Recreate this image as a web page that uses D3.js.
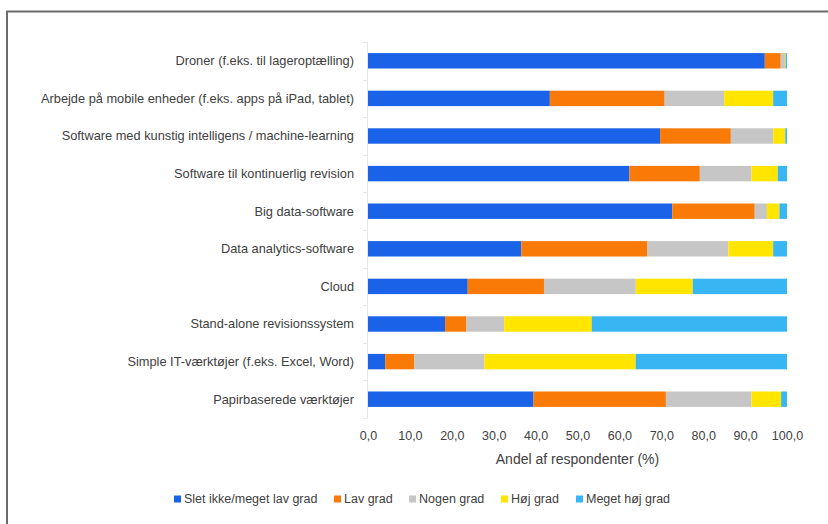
<!DOCTYPE html>
<html>
<head>
<meta charset="utf-8">
<script src="https://cdnjs.cloudflare.com/ajax/libs/d3/7.8.5/d3.min.js"></script>
<style>
  body { margin: 0; background: #fff; }
  text { font-family: "Liberation Sans", "DejaVu Sans", sans-serif; fill: #404040; }
</style>
</head>
<body>
<script>
// categories (top to bottom)
var categories = [
  "Droner (f.eks. til lageroptælling)",
  "Arbejde på mobile enheder (f.eks. apps på iPad, tablet)",
  "Software med kunstig intelligens / machine-learning",
  "Software til kontinuerlig revision",
  "Big data-software",
  "Data analytics-software",
  "Cloud",
  "Stand-alone revisionssystem",
  "Simple IT-værktøjer (f.eks. Excel, Word)",
  "Papirbaserede værktøjer"
];

// series (share of respondents, %)
var sletIkke = [94.7, 43.4, 69.7, 62.4, 72.6, 36.6, 23.8, 18.4, 4.1, 39.5];
var lavGrad  = [3.8, 27.4, 16.9, 16.8, 19.7, 30.1, 18.2, 5.1, 6.9, 31.6];
var nogenGrad = [1.0, 14.2, 10.1, 12.3, 2.9, 19.3, 21.9, 9.0, 16.8, 20.4];
var hojGrad  = [0.2, 11.7, 2.9, 6.3, 3.0, 10.7, 13.6, 20.9, 36.1, 7.1];
var megetHoj = [0.3, 3.3, 0.4, 2.2, 1.8, 3.3, 22.5, 46.6, 36.1, 1.4];

var seriesNames = ["Slet ikke/meget lav grad", "Lav grad", "Nogen grad", "Høj grad", "Meget høj grad"];
var seriesColors = ["#1a63e8", "#fa7a08", "#c6c6c6", "#ffe500", "#38b6f4"];
var tickValues = [0, 10, 20, 30, 40, 50, 60, 70, 80, 90, 100];

var W = 828, H = 524;
var margin = {top: 42, left: 368, right: 41, bottom: 106};
var width = W - margin.left - margin.right,
    height = H - margin.top - margin.bottom;

var svg = d3.select("body").append("svg")
    .attr("width", W)
    .attr("height", H);

// outer frame (open to the right and bottom)
svg.append("path")
    .attr("d", "M7," + H + "V11.5H" + W)
    .attr("fill", "none")
    .attr("stroke", "#6b6b6b")
    .attr("stroke-width", 2);

var g = svg.append("g")
    .attr("transform", "translate(" + margin.left + "," + margin.top + ")");

// scales
var x = d3.scaleLinear().domain([0, 100]).range([0, width]);
var y = d3.scaleBand().domain(categories).range([0, height]).paddingInner(0.59).paddingOuter(0.295);

// build stacked table from the arrays
var table = categories.map(function(c, i) {
  return {cat: c, s0: sletIkke[i], s1: lavGrad[i], s2: nogenGrad[i], s3: hojGrad[i], s4: megetHoj[i]};
});
var stack = d3.stack().keys(["s0", "s1", "s2", "s3", "s4"]);
var layers = stack(table);

g.selectAll(".layer")
  .data(layers)
  .enter().append("g")
    .attr("class", "layer")
    .attr("fill", function(d, i) { return seriesColors[i]; })
  .selectAll("rect")
  .data(function(d) { return d; })
  .enter().append("rect")
    .attr("x", function(d) { return x(d[0]); })
    .attr("width", function(d) { return Math.max(0, x(d[1]) - x(d[0])); })
    .attr("y", function(d) { return y(d.data.cat); })
    .attr("height", y.bandwidth());

// y axis: faint line with ticks between categories
var yAxis = g.append("g").attr("class", "axis axis--y");
yAxis.append("line")
    .attr("x1", -0.5).attr("x2", -0.5)
    .attr("y1", 0).attr("y2", height)
    .attr("stroke", "#e6e6e6");
var step = y.step();
d3.range(categories.length + 1).forEach(function(i) {
  var yy = Math.round(y(categories[0]) - y.paddingInner() * step / 2 + i * step) + 0.5;
  yAxis.append("line")
      .attr("x1", -5).attr("x2", -0.5)
      .attr("y1", yy).attr("y2", yy)
      .attr("stroke", "#e6e6e6");
});

// category labels
g.selectAll(".catLabel")
  .data(categories)
  .enter().append("text")
    .attr("class", "catLabel")
    .attr("x", -14)
    .attr("y", function(d) { return y(d) + y.bandwidth() / 2; })
    .attr("dy", "0.35em")
    .attr("text-anchor", "end")
    .style("font-size", "12.8px")
    .text(function(d) { return d; });

// x axis tick labels
var fmt = function(v) { return v.toFixed(1).replace(".", ","); };
var xAxis = g.append("g")
    .attr("class", "axis axis--x")
    .attr("transform", "translate(0," + height + ")")
    .call(d3.axisBottom(x).tickValues(tickValues).tickFormat(fmt).tickSize(0).tickPadding(13));
xAxis.select(".domain").remove();
xAxis.selectAll("text")
    .style("font-size", "12.5px")
    .attr("fill", "#404040");

// x axis title
g.append("text")
    .attr("x", width / 2)
    .attr("y", height + 46)
    .attr("text-anchor", "middle")
    .style("font-size", "14px")
    .text("Andel af respondenter (%)");

// legend
var legendX = [174, 334, 409, 501, 576];
var legend = svg.selectAll(".legendItem")
  .data(seriesNames)
  .enter().append("g")
    .attr("class", "legendItem")
    .attr("transform", function(d, i) { return "translate(" + legendX[i] + ",499)"; });

legend.append("rect")
    .attr("x", 0).attr("y", -3.5)
    .attr("width", 7).attr("height", 7)
    .attr("fill", function(d, i) { return seriesColors[i]; });

legend.append("text")
    .attr("x", 10)
    .attr("dy", "0.35em")
    .style("font-size", "12.5px")
    .text(function(d) { return d; });
</script>
</body>
</html>
